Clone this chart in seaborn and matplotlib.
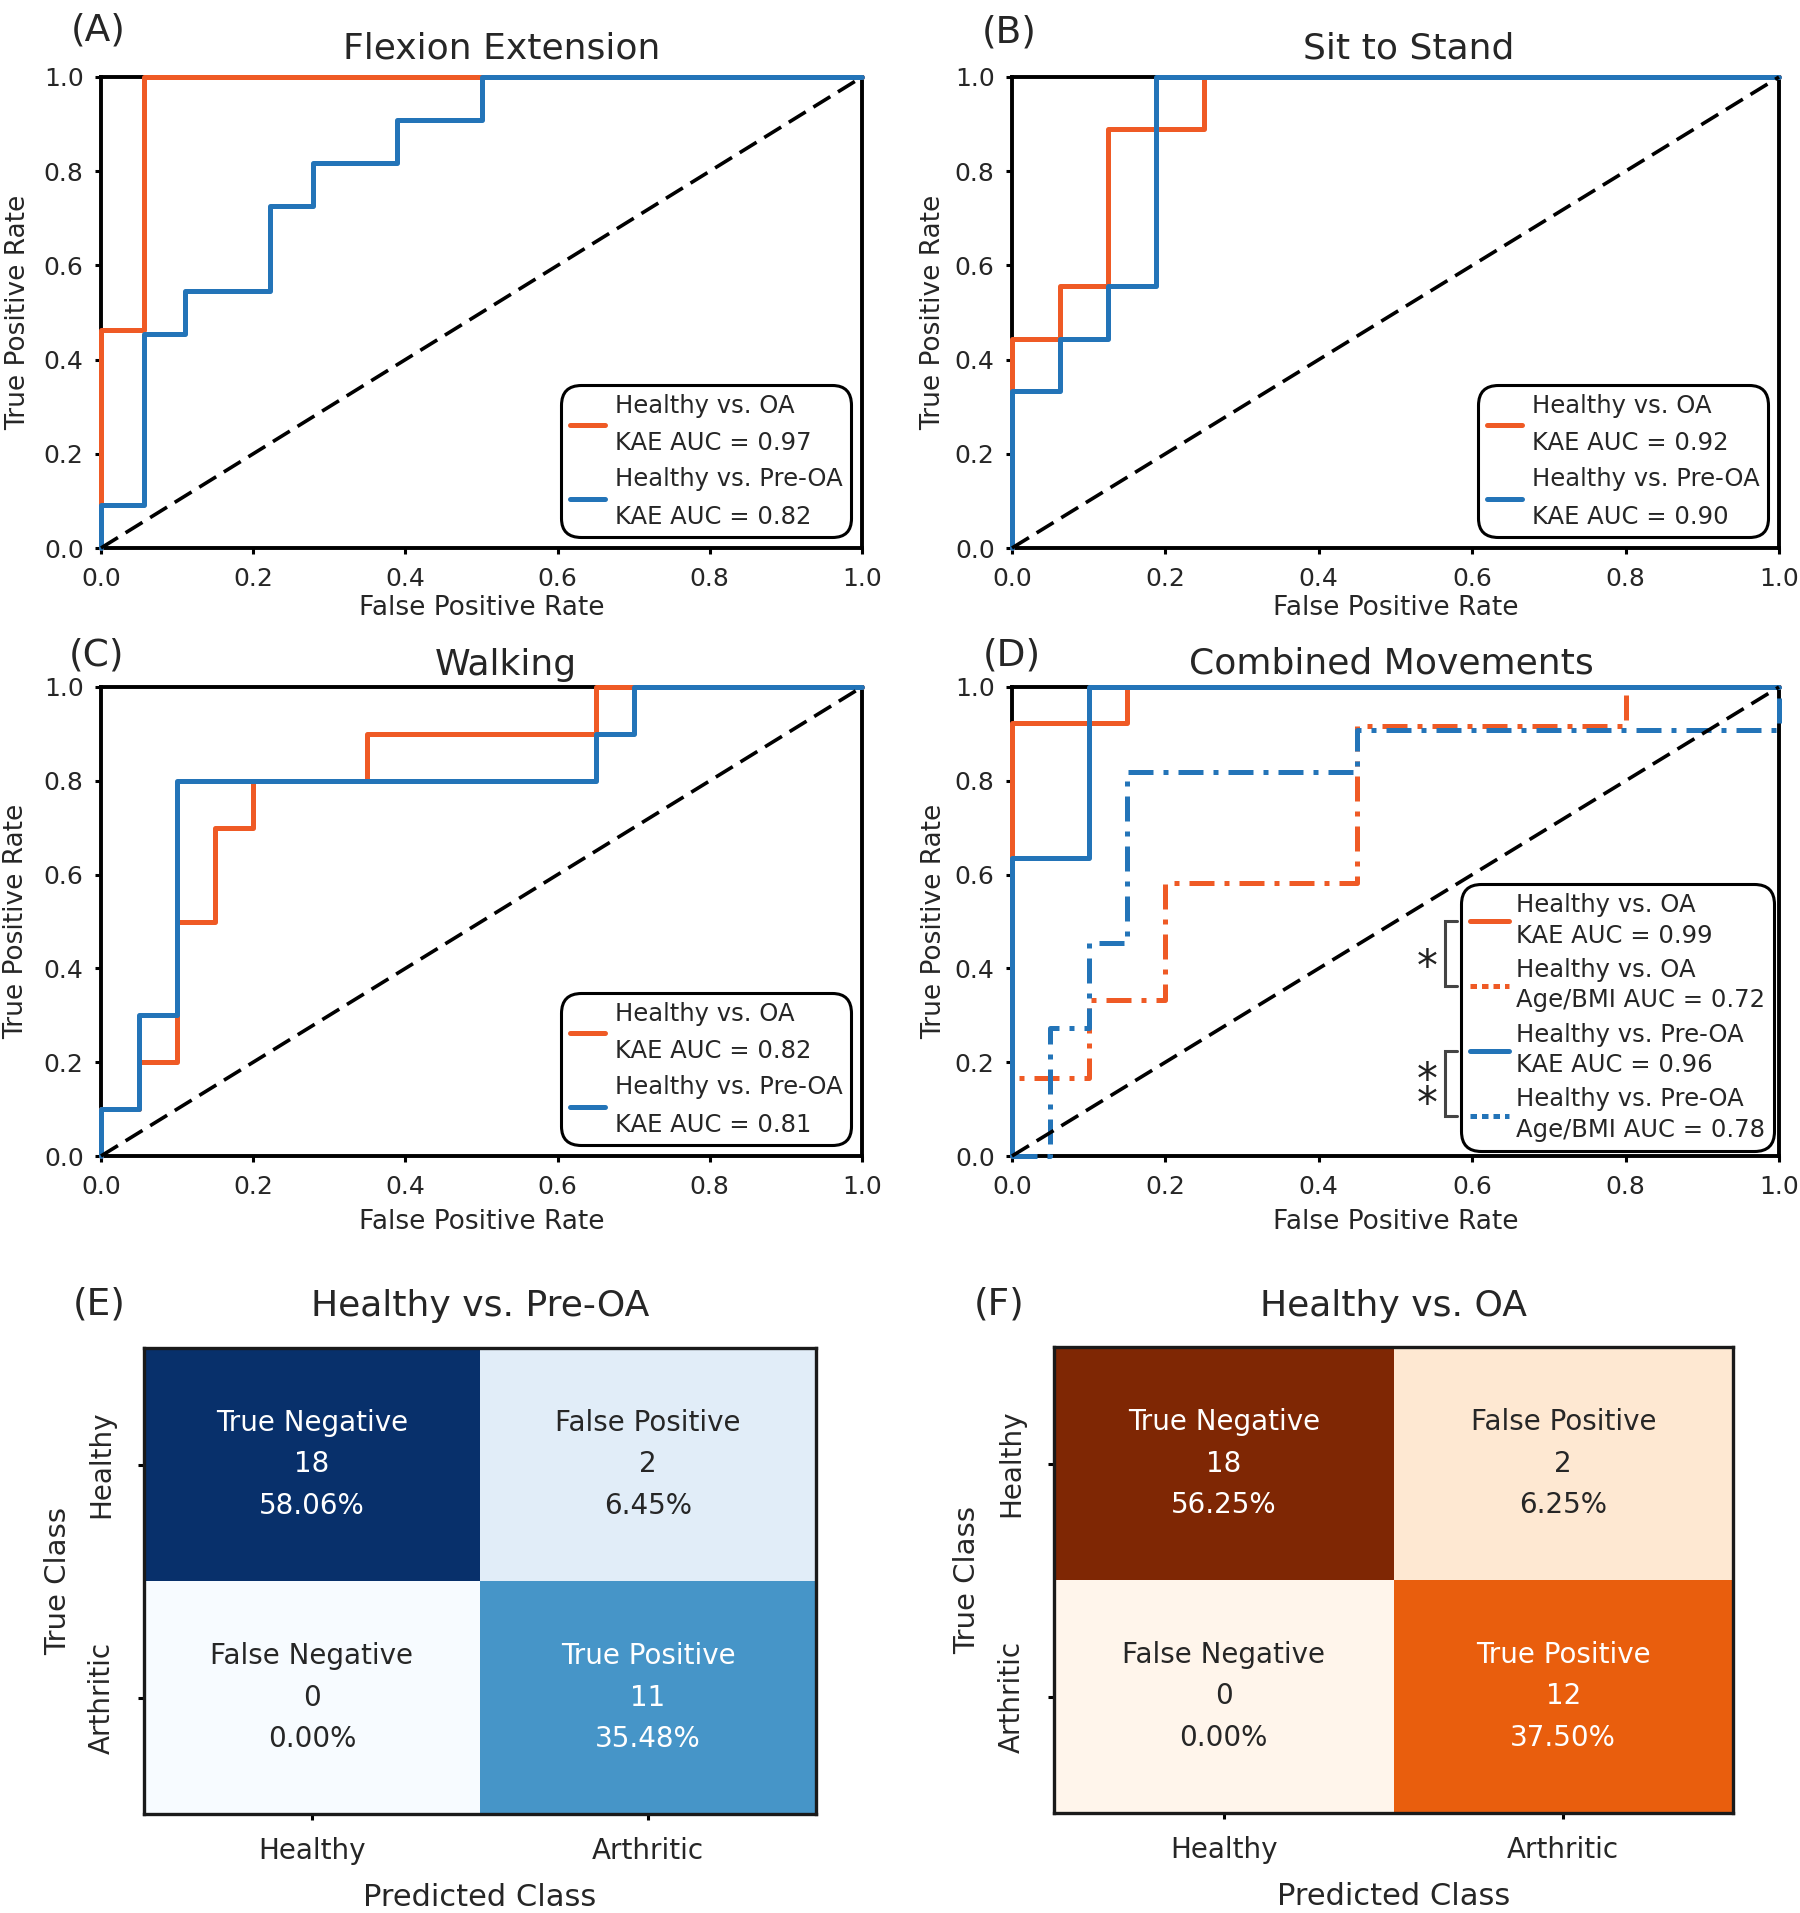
import numpy as np
import pandas as pd
import matplotlib
matplotlib.use("Agg")
import matplotlib.pyplot as plt
from matplotlib.lines import Line2D
import seaborn as sns

# ---------------- data ----------------
CHANCE = [0.0, 1.0]

# (A) Flexion Extension
A_oa_fpr = [0.0, 0.0, 0.056, 0.056, 1.0]
A_oa_tpr = [0.0, 0.462, 0.462, 1.0, 1.0]
A_pre_fpr = [0.0, 0.0, 0.056, 0.056, 0.111, 0.111, 0.222, 0.222, 0.278, 0.278, 0.389, 0.389, 0.5, 0.5, 1.0]
A_pre_tpr = [0.0, 0.091, 0.091, 0.455, 0.455, 0.545, 0.545, 0.727, 0.727, 0.818, 0.818, 0.909, 0.909, 1.0, 1.0]
A_auc = [0.97, 0.82]

# (B) Sit to Stand
B_oa_fpr = [0.0, 0.0, 0.0625, 0.0625, 0.125, 0.125, 0.25, 0.25, 1.0]
B_oa_tpr = [0.0, 0.444, 0.444, 0.556, 0.556, 0.889, 0.889, 1.0, 1.0]
B_pre_fpr = [0.0, 0.0, 0.0625, 0.0625, 0.125, 0.125, 0.1875, 0.1875, 1.0]
B_pre_tpr = [0.0, 0.333, 0.333, 0.444, 0.444, 0.556, 0.556, 1.0, 1.0]
B_auc = [0.92, 0.90]

# (C) Walking
C_oa_fpr = [0.0, 0.0, 0.05, 0.05, 0.1, 0.1, 0.15, 0.15, 0.2, 0.2, 0.35, 0.35, 0.65, 0.65, 1.0]
C_oa_tpr = [0.0, 0.1, 0.1, 0.2, 0.2, 0.5, 0.5, 0.7, 0.7, 0.8, 0.8, 0.9, 0.9, 1.0, 1.0]
C_pre_fpr = [0.0, 0.0, 0.05, 0.05, 0.1, 0.1, 0.65, 0.65, 0.7, 0.7, 1.0]
C_pre_tpr = [0.0, 0.1, 0.1, 0.3, 0.3, 0.8, 0.8, 0.9, 0.9, 1.0, 1.0]
C_auc = [0.82, 0.81]

# (D) Combined Movements
D_oa_kae_fpr = [0.0, 0.0, 0.15, 0.15, 1.0]
D_oa_kae_tpr = [0.0, 0.923, 0.923, 1.0, 1.0]
D_oa_age_fpr = [0.0, 0.0, 0.1, 0.1, 0.2, 0.2, 0.45, 0.45, 0.8, 0.8, 1.0]
D_oa_age_tpr = [0.0, 0.167, 0.167, 0.333, 0.333, 0.583, 0.583, 0.917, 0.917, 1.0, 1.0]
D_pre_kae_fpr = [0.0, 0.0, 0.1, 0.1, 1.0]
D_pre_kae_tpr = [0.0, 0.636, 0.636, 1.0, 1.0]
D_pre_age_fpr = [0.0, 0.05, 0.05, 0.1, 0.1, 0.15, 0.15, 0.45, 0.45, 1.0, 1.0]
D_pre_age_tpr = [0.0, 0.0, 0.273, 0.273, 0.455, 0.455, 0.818, 0.818, 0.909, 0.909, 1.0]
D_auc = [0.99, 0.72, 0.96, 0.78]

# Confusion matrices
CLASSES = ["Healthy", "Arthritic"]
CELL_NAMES = [["True Negative", "False Positive"], ["False Negative", "True Positive"]]
E_counts = [[18, 2], [0, 11]]
F_counts = [[18, 2], [0, 12]]

ROC_TICKS = [0.0, 0.2, 0.4, 0.6, 0.8, 1.0]

# ---------------- style ----------------
sns.set_theme(style="ticks")
plt.rcParams["font.family"] = ["DejaVu Sans"]

ORANGE = "#ef5a25"
BLUE = "#2374b8"
LW = 3.6
DASHDOT = (0, (5, 2, 1, 2))
DIAG = (0, (5.5, 2.5))

W, H = 1800, 1913
fig = plt.figure(figsize=(W / 100, H / 100), dpi=100)


def rect(l, t, r, b):
    return [l / W, 1 - b / H, (r - l) / W, (b - t) / H]


axA = fig.add_axes(rect(101, 77, 862, 548))
axB = fig.add_axes(rect(1012, 77, 1779, 548))
axC = fig.add_axes(rect(101, 687, 862, 1156))
axD = fig.add_axes(rect(1012, 687, 1779, 1156))
axE = fig.add_axes(rect(144, 1348, 816, 1814))
axF = fig.add_axes(rect(1054, 1347, 1733, 1813))


def style_roc(ax, title, tx, tpad, ylx, xly):
    ax.set_xlim(0, 1)
    ax.set_ylim(0, 1)
    ax.set_xticks(ROC_TICKS)
    ax.set_yticks(ROC_TICKS)
    ax.set_xticklabels([f"{v:.1f}" for v in ROC_TICKS])
    ax.set_yticklabels([f"{v:.1f}" for v in ROC_TICKS])
    ax.tick_params(direction="out", length=4.5, width=2.2, labelsize=18, color="black")
    ax.tick_params(axis="x", pad=9)
    ax.tick_params(axis="y", pad=8)
    for s in ax.spines.values():
        s.set_visible(True)
        s.set_linewidth(2.8)
        s.set_color("black")
    ax.set_xlabel("False Positive Rate", fontsize=19)
    ax.set_ylabel("True Positive Rate", fontsize=19)
    ax.xaxis.set_label_coords(0.5, xly)
    ax.yaxis.set_label_coords(ylx, 0.5)
    ax.set_title(title, fontsize=26, x=tx, pad=tpad)
    for ln in ax.lines:
        ln.set_clip_on(False)
        ln.set_zorder(3)


def draw_series(ax, fpr, tpr, color, ls):
    sns.lineplot(x=fpr, y=tpr, ax=ax, color=color, linestyle=ls, linewidth=LW,
                 estimator=None, sort=False, legend=False)


def style_legend(leg, linespacing):
    fr = leg.get_frame()
    fr.set_edgecolor("black")
    fr.set_facecolor("white")
    fr.set_alpha(1)
    fr.set_linewidth(2.2)
    fr.set_boxstyle("round,pad=0,rounding_size=0.8")
    for t in leg.get_texts():
        t.set_linespacing(linespacing)


def roc_panel(ax, oa_fpr, oa_tpr, pre_fpr, pre_tpr, auc, title, tx, tpad, ylx, xly):
    draw_series(ax, oa_fpr, oa_tpr, ORANGE, "-")
    draw_series(ax, pre_fpr, pre_tpr, BLUE, "-")
    sns.lineplot(x=CHANCE, y=CHANCE, ax=ax, color="black", linestyle=DIAG,
                 linewidth=2.6, estimator=None, sort=False, legend=False)
    style_roc(ax, title, tx, tpad, ylx, xly)
    handles = [Line2D([0], [0], color=ORANGE, lw=LW), Line2D([0], [0], color=BLUE, lw=LW)]
    labels = [f"Healthy vs. OA\nKAE AUC = {auc[0]:.2f}",
              f"Healthy vs. Pre-OA\nKAE AUC = {auc[1]:.2f}"]
    leg = ax.legend(handles, labels, loc="lower right", fontsize=17.5, frameon=True,
                    fancybox=True, handlelength=1.45, handletextpad=0.4, borderpad=0.35,
                    labelspacing=0.5, borderaxespad=0.45)
    style_legend(leg, 1.7)


roc_panel(axA, A_oa_fpr, A_oa_tpr, A_pre_fpr, A_pre_tpr, A_auc, "Flexion Extension", 0.526, 13, -0.092, -0.10)
roc_panel(axB, B_oa_fpr, B_oa_tpr, B_pre_fpr, B_pre_tpr, B_auc, "Sit to Stand", 0.517, 13, -0.086, -0.10)
roc_panel(axC, C_oa_fpr, C_oa_tpr, C_pre_fpr, C_pre_tpr, C_auc, "Walking", 0.532, 9, -0.095, -0.113)

# (D)
draw_series(axD, D_oa_kae_fpr, D_oa_kae_tpr, ORANGE, "-")
draw_series(axD, D_oa_age_fpr, D_oa_age_tpr, ORANGE, DASHDOT)
draw_series(axD, D_pre_kae_fpr, D_pre_kae_tpr, BLUE, "-")
draw_series(axD, D_pre_age_fpr, D_pre_age_tpr, BLUE, DASHDOT)
sns.lineplot(x=CHANCE, y=CHANCE, ax=axD, color="black", linestyle=DIAG,
             linewidth=2.6, estimator=None, sort=False, legend=False)
style_roc(axD, "Combined Movements", 0.495, 10, -0.085, -0.113)
DOT = (0, (1.3, 1.0))
hD = [Line2D([0], [0], color=ORANGE, lw=LW), Line2D([0], [0], color=ORANGE, lw=LW, linestyle=DOT),
      Line2D([0], [0], color=BLUE, lw=LW), Line2D([0], [0], color=BLUE, lw=LW, linestyle=DOT)]
lD = [f"Healthy vs. OA\nKAE AUC = {D_auc[0]:.2f}",
      f"Healthy vs. OA\nAge/BMI AUC = {D_auc[1]:.2f}",
      f"Healthy vs. Pre-OA\nKAE AUC = {D_auc[2]:.2f}",
      f"Healthy vs. Pre-OA\nAge/BMI AUC = {D_auc[3]:.2f}"]
legD = axD.legend(hD, lD, loc="lower right", fontsize=17.5, frameon=True, fancybox=True,
                  handlelength=1.6, handletextpad=0.3, borderpad=0.35, labelspacing=0.42,
                  borderaxespad=0.22)
style_legend(legD, 1.35)


# ---------------- heatmaps ----------------
def cm_panel(ax, counts, cmap, title, tpad):
    arr = np.array(counts)
    total = arr.sum()
    annot = np.array([[f"{CELL_NAMES[i][j]}\n{arr[i, j]}\n{arr[i, j] / total * 100:.2f}%"
                       for j in range(2)] for i in range(2)])
    sns.heatmap(arr, ax=ax, cmap=cmap, annot=annot, fmt="", cbar=False,
                xticklabels=CLASSES, yticklabels=CLASSES,
                annot_kws={"fontsize": 20, "linespacing": 1.63})
    for s in ax.spines.values():
        s.set_visible(True)
        s.set_linewidth(2.4)
        s.set_color("#1a1a1a")
    ax.tick_params(direction="out", length=4.5, width=2.2, color="black", labelsize=20)
    ax.tick_params(axis="x", pad=12, bottom=True)
    ax.tick_params(axis="y", pad=16, left=True)
    for t in ax.get_yticklabels():
        t.set_rotation(90)
        t.set_va("center")
    for t in ax.get_xticklabels():
        t.set_rotation(0)
    ax.set_xlabel("Predicted Class", fontsize=22)
    ax.set_ylabel("True Class", fontsize=21)
    ax.xaxis.set_label_coords(0.5, -0.148)
    ax.yaxis.set_label_coords(-0.107, 0.5)
    ax.set_title(title, fontsize=26, pad=tpad)


cm_panel(axE, E_counts, "Blues", "Healthy vs. Pre-OA", 23)
cm_panel(axF, F_counts, "Oranges", "Healthy vs. OA", 22)

# panel letters
for letter, (x, y) in zip("ABCDEF", [(98, 30), (1009, 32), (97, 656), (1012, 656), (99, 1304), (999, 1304)]):
    fig.text(x / W, 1 - y / H, f"({letter})", fontsize=27, ha="center", va="center")

# significance brackets next to legend D
fig.canvas.draw()
renderer = fig.canvas.get_renderer()
inv = fig.transFigure.inverted()
frame_bb = legD.get_frame().get_window_extent(renderer)
hy = []
for h in legD.legend_handles:
    bb = h.get_window_extent(renderer)
    hy.append((bb.y0 + bb.y1) / 2)
x_vert = frame_bb.x0 - 16
x_tick = frame_bb.x0 - 4
for (ya, yb), stars, dy in [((hy[0], hy[1]), "*", -14), ((hy[2], hy[3]), "*\n*", -10)]:
    pts = np.array([[x_tick, ya], [x_vert, ya], [x_vert, yb], [x_tick, yb]])
    fp = inv.transform(pts)
    fig.add_artist(Line2D(fp[:, 0], fp[:, 1], color="#444444", lw=2.2, solid_joinstyle="miter"))
    yc = (ya + yb) / 2
    p = inv.transform([[x_vert - 18, yc + dy]])[0]
    fig.text(p[0], p[1], stars, fontsize=30, ha="center", va="center", color="#222222",
             linespacing=0.46)

fig.savefig("out.png", dpi=100)
